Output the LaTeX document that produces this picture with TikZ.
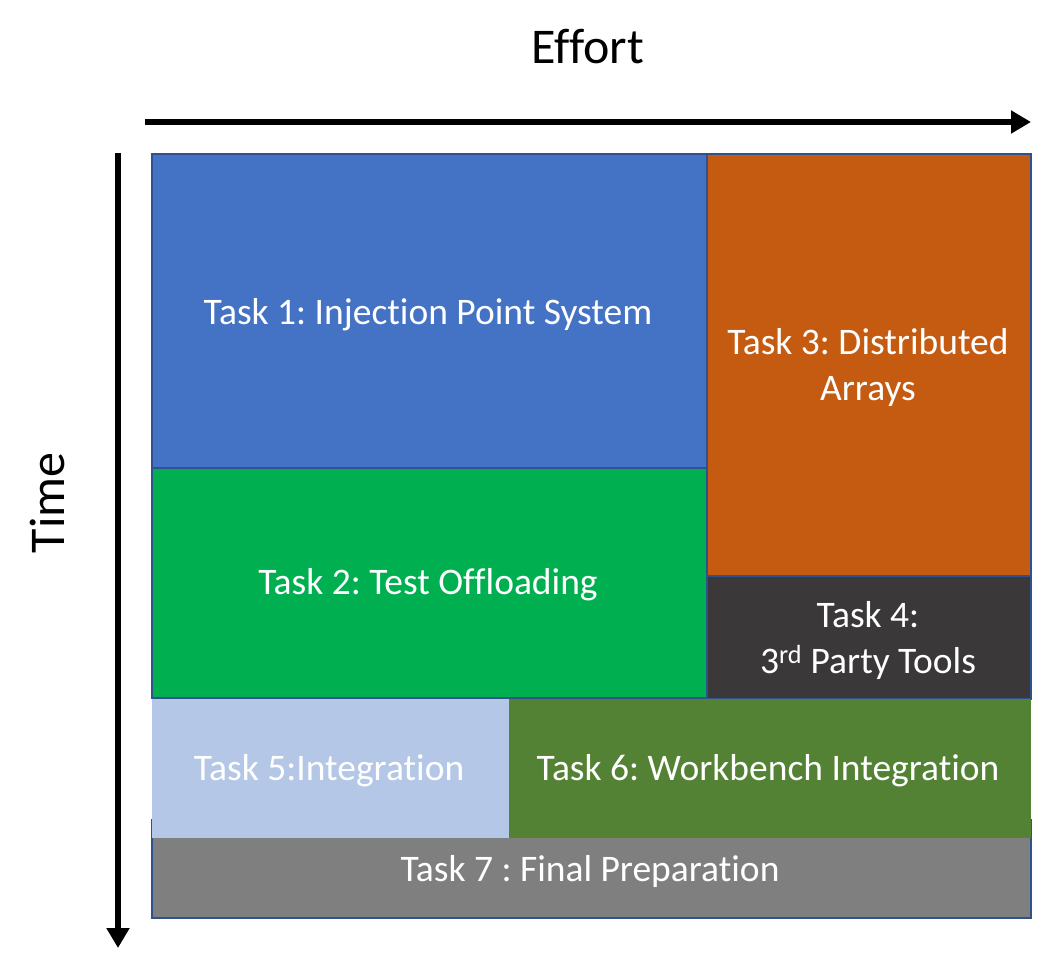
\documentclass[tikz,border=0pt]{standalone}
\usepackage{fontspec}
\setmainfont{Carlito}[Ligatures={NoCommon}]
\usetikzlibrary{arrows.meta}
\definecolor{cOne}{HTML}{4472C4}
\definecolor{cTwo}{HTML}{00B050}
\definecolor{cThree}{HTML}{C55A11}
\definecolor{cFour}{HTML}{3A3838}
\definecolor{cFive}{HTML}{B4C7E7}
\definecolor{cSix}{HTML}{548235}
\definecolor{cSeven}{HTML}{7F7F7F}
\definecolor{cEdge}{HTML}{2F528F}
\frenchspacing
\begin{document}
\begin{tikzpicture}[x=1pt,y=-1pt,
  taskbox/.style={draw=cEdge,line width=2pt,anchor=north west,inner sep=0pt,
    text=white,align=center,font=\fontsize{37.5}{46}\selectfont},
  plainbox/.style={taskbox,draw=none},
  axis/.style={line width=6pt,-{Triangle[length=20pt,width=22pt]}},
  axislabel/.style={font=\fontsize{50}{58}\selectfont}]
\useasboundingbox (0,0) rectangle (1048,967);
% task 7 first (partly covered)
\node[taskbox,fill=cSeven,minimum width=879pt,minimum height=98pt] (t7) at (151,819) {};
\node[taskbox,fill=cOne,minimum width=555pt,minimum height=314pt] (t1) at (151,153) {};
\node[taskbox,fill=cThree,minimum width=324pt,minimum height=422pt] (t3) at (706,153) {};
\node[taskbox,fill=cTwo,minimum width=555pt,minimum height=230pt] (t2) at (151,467) {};
\node[taskbox,fill=cFour,minimum width=324pt,minimum height=123pt] (t4) at (706,575) {};
\node[plainbox,fill=cFive,minimum width=357pt,minimum height=139pt] (t5) at (151,698) {};
\node[plainbox,fill=cSix,minimum width=522pt,minimum height=139pt] (t6) at (508,698) {};
% labels
\node[taskbox,draw=none,anchor=center] (l1) at (428,315) {Task 1: Injection Point System};
\node[taskbox,draw=none,anchor=center] (l3) at (868,367) {Task 3: Distributed\\Arrays};
\node[taskbox,draw=none,anchor=center] (l2) at (428,585) {Task 2: Test Offloading};
\node[taskbox,draw=none,anchor=center] (l4) at (868,640) {Task 4:\\3\textsuperscript{rd} Party Tools};
\node[taskbox,draw=none,anchor=center] (l5) at (329,771) {Task 5:Integration};
\node[taskbox,draw=none,anchor=center] (l6) at (768,771) {Task 6: Workbench Integration};
\node[taskbox,draw=none,anchor=center] (l7) at (590,871) {Task 7 : Final Preparation};
% axes
\coordinate (ex0) at (145,122);
\coordinate (ex1) at (1031,122);
\coordinate (ty0) at (118,153);
\coordinate (ty1) at (118,948);
\draw[axis] (ex0) -- (ex1);
\draw[axis] (ty0) -- (ty1);
\node[axislabel] (effort) at (588,47) {Effort};
\node[axislabel,rotate=90] (time) at (47,503) {Time};
\end{tikzpicture}
\end{document}
